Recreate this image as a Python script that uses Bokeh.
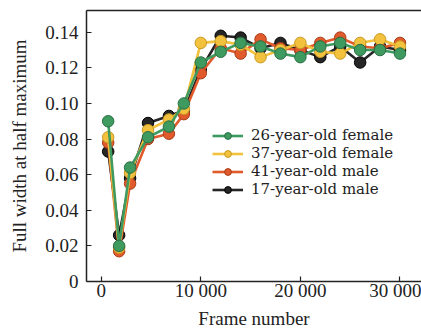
from bokeh.plotting import figure
from bokeh.models import Range1d, FixedTicker, LinearAxis, Legend, LegendItem
from bokeh.embed import file_html
from bokeh.resources import INLINE

# Frame index at which each FWHM sample was taken
frames = [700, 1800, 2900, 4700, 6800, 8300, 10000, 12000, 14000,
          16000, 18000, 20000, 22000, 24000, 26000, 28000, 30000]

# Full width at half maximum per subject
fwhm_f26 = [0.090, 0.020, 0.064, 0.081, 0.087, 0.100, 0.123, 0.129, 0.134,
            0.132, 0.128, 0.126, 0.132, 0.134, 0.130, 0.130, 0.128]
fwhm_f37 = [0.081, 0.019, 0.061, 0.085, 0.091, 0.097, 0.134, 0.135, 0.133,
            0.126, 0.130, 0.134, 0.129, 0.128, 0.134, 0.136, 0.132]
fwhm_m41 = [0.078, 0.017, 0.055, 0.080, 0.083, 0.094, 0.117, 0.131, 0.128,
            0.136, 0.131, 0.130, 0.134, 0.137, 0.132, 0.131, 0.134]
fwhm_m17 = [0.073, 0.026, 0.058, 0.089, 0.093, 0.096, 0.119, 0.138, 0.137,
            0.131, 0.134, 0.130, 0.126, 0.132, 0.123, 0.132, 0.130]

series_names = ["26-year-old female", "37-year-old female",
                "41-year-old male", "17-year-old male"]

y_ticks = [0, 0.02, 0.04, 0.06, 0.08, 0.10, 0.12, 0.14]
y_tick_labels = ["0", "0.02", "0.04", "0.06", "0.08", "0.10", "0.12", "0.14"]
x_ticks = [0, 10000, 20000, 30000]
x_tick_labels = ["0", "10 000", "20 000", "30 000"]

FONT = "'Liberation Serif', 'Times New Roman', serif"
LEGEND_FONT = "'DejaVu Serif', serif"
INK = "#222222"

p = figure(width=421, height=331, output_backend="svg", toolbar_location=None,
           x_range=Range1d(-1476, 32160), y_range=Range1d(0, 0.1522),
           min_border_left=86, min_border_right=0, min_border_top=10,
           min_border_bottom=50)
p.outline_line_color = None
p.grid.visible = False
p.background_fill_color = "white"
p.border_fill_color = "white"

for ax in (p.xaxis[0], p.yaxis[0]):
    ax.axis_line_color = INK
    ax.axis_line_width = 1.5
    ax.major_tick_line_color = INK
    ax.major_tick_line_width = 1.2
    ax.major_tick_in = 5
    ax.major_tick_out = 0
    ax.minor_tick_line_color = None
    ax.major_label_text_font = FONT
    ax.major_label_text_font_size = "19px"
    ax.major_label_text_color = INK
    ax.axis_label_text_font = FONT
    ax.axis_label_text_font_size = "19px"
    ax.axis_label_text_font_style = "normal"
    ax.axis_label_text_color = INK

p.xaxis[0].ticker = FixedTicker(ticks=x_ticks)
p.xaxis[0].major_label_overrides = dict(zip(x_ticks, x_tick_labels))
p.xaxis[0].axis_label = "Frame number"
p.xaxis[0].major_label_standoff = -2
p.xaxis[0].axis_label_standoff = 4

p.yaxis[0].ticker = FixedTicker(ticks=y_ticks)
p.yaxis[0].major_label_overrides = {t: s for t, s in zip(y_ticks, y_tick_labels)}
p.yaxis[0].axis_label = "Full width at half maximum"
p.yaxis[0].major_label_standoff = 8
p.yaxis[0].axis_label_standoff = 12

# Top border of the frame
top = LinearAxis(ticker=FixedTicker(ticks=[]), axis_line_color=INK,
                 axis_line_width=1.5, major_tick_line_color=None,
                 minor_tick_line_color=None, major_label_text_font_size="0px")
p.add_layout(top, "above")

styles = [
    (fwhm_f26, "#3f9a60", "#2a6e44"),
    (fwhm_f37, "#f2c23e", "#c99a22"),
    (fwhm_m41, "#e05a2c", "#a83c18"),
    (fwhm_m17, "#262626", "#000000"),
]

items = {}
# Draw black first so the green series ends up on top
for idx in [3, 2, 1, 0]:
    vals, fill, edge = styles[idx]
    ln = p.line(frames, vals, line_color=fill, line_width=2.6)
    sc = p.scatter(frames, vals, size=11.5, fill_color=fill, line_color=edge,
                   line_width=1)
    items[idx] = LegendItem(label=series_names[idx], renderers=[ln, sc])

# One single-row legend per series, stacked with a tight row pitch
legend_bottoms = [137, 119, 101, 83]
for idx, bottom in enumerate(legend_bottoms):
    lg = Legend(items=[items[idx]], location=(126, bottom),
                padding=0, margin=0, spacing=0, label_standoff=8,
                glyph_width=31, glyph_height=17, label_height=17,
                border_line_color=None, background_fill_alpha=0,
                label_text_font=LEGEND_FONT, label_text_font_size="15px",
                label_text_color=INK)
    p.add_layout(lg)

open("out.html", "w").write(file_html(p, INLINE))
